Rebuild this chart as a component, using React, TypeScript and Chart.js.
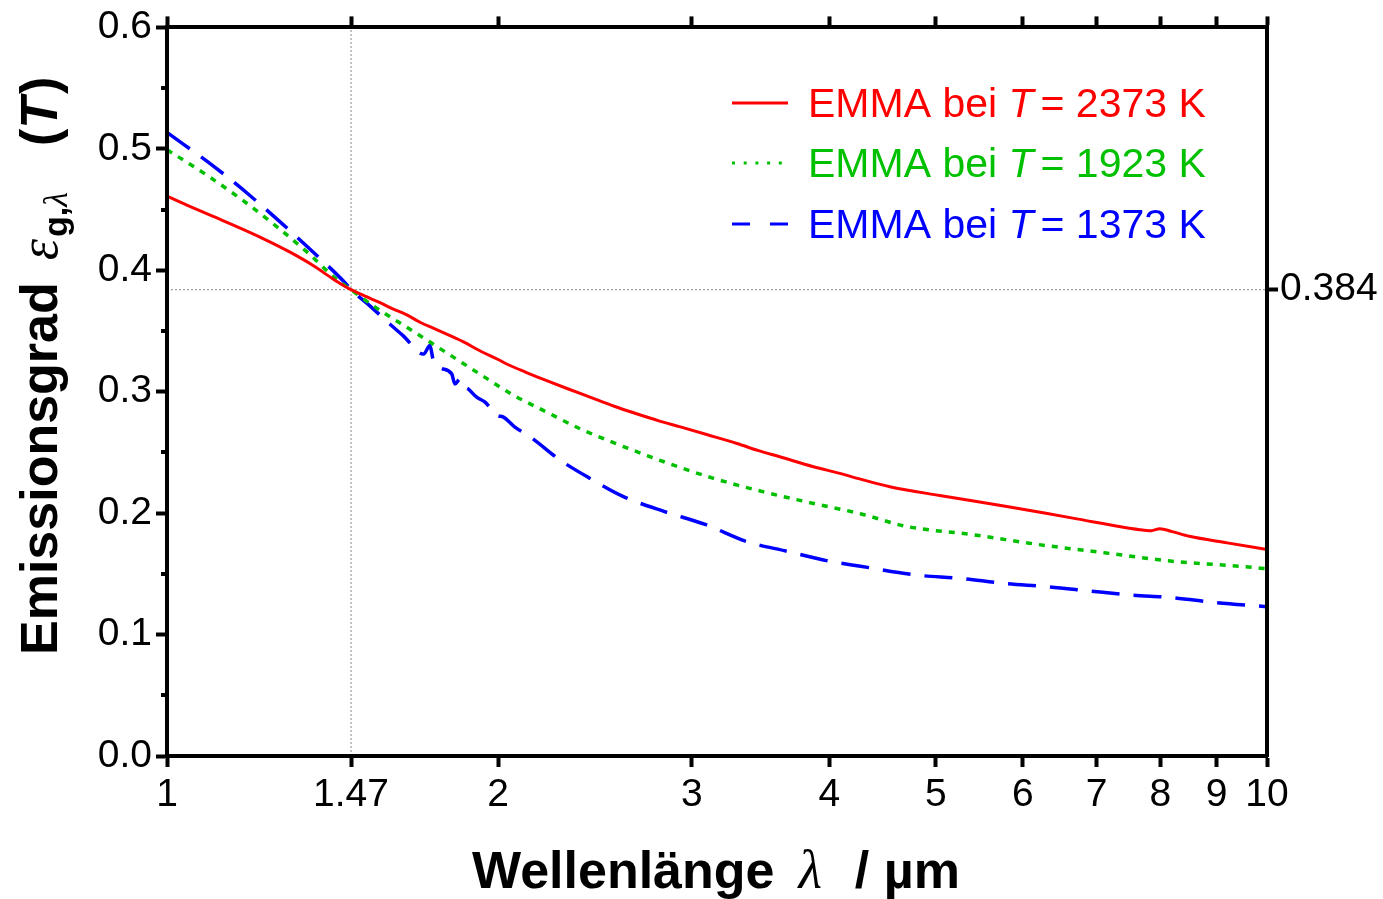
import React, { useEffect, useRef } from "react";
import { Chart, registerables } from "chart.js";

Chart.register(...registerables);

// ---------- data ----------
const redLambda = [1.0, 1.05, 1.1, 1.16, 1.22, 1.29, 1.36, 1.42, 1.47, 1.52, 1.56, 1.606, 1.65, 1.7, 1.75, 1.8, 1.86, 1.925, 2.0, 2.036, 2.12, 2.214, 2.32, 2.424, 2.55, 2.673, 2.8, 2.929, 3.1, 3.297, 3.45, 3.607, 3.87, 4.09, 4.27, 4.54, 5.04, 5.8, 6.66, 7.66, 7.85, 7.99, 8.2, 8.5, 9.2, 10.0];
const redEmission = [0.461, 0.4525, 0.4445, 0.4355, 0.4265, 0.4155, 0.4035, 0.392, 0.384, 0.378, 0.3735, 0.368, 0.3635, 0.357, 0.352, 0.347, 0.341, 0.3337, 0.3265, 0.3228, 0.316, 0.3091, 0.302, 0.2955, 0.288, 0.2818, 0.276, 0.271, 0.2645, 0.2573, 0.2515, 0.2464, 0.2382, 0.2327, 0.228, 0.2218, 0.2145, 0.2055, 0.1959, 0.1864, 0.1855, 0.1872, 0.1848, 0.1809, 0.1755, 0.17];

const greenLambda = [1.0, 1.087, 1.173, 1.258, 1.349, 1.42, 1.47, 1.55, 1.663, 1.8, 1.939, 2.063, 2.214, 2.374, 2.58, 2.83, 3.14, 3.48, 3.87, 4.27, 4.7, 5.4, 6.2, 7.14, 8.2, 9.8, 10.0];
const greenEmission = [0.4993, 0.4783, 0.4573, 0.436, 0.4128, 0.394, 0.384, 0.369, 0.3514, 0.3314, 0.3127, 0.2974, 0.2832, 0.2695, 0.256, 0.2423, 0.2286, 0.2177, 0.208, 0.1995, 0.1891, 0.1823, 0.1741, 0.1672, 0.1604, 0.155, 0.154];

const blueLambda = [1.0, 1.105, 1.188, 1.276, 1.366, 1.452, 1.47, 1.53, 1.595, 1.64, 1.711, 1.734, 1.745, 1.77, 1.815, 1.827, 1.847, 1.859, 1.88, 1.912, 1.946, 1.995, 2.022, 2.07, 2.14, 2.277, 2.424, 2.6, 2.83, 3.09, 3.36, 3.66, 4.0, 4.27, 4.8, 5.26, 5.76, 6.32, 6.9, 7.5, 8.2, 9.0, 10.0];
const blueEmission = [0.5135, 0.485, 0.462, 0.4374, 0.4128, 0.3896, 0.384, 0.3705, 0.3555, 0.346, 0.331, 0.338, 0.327, 0.32, 0.3145, 0.3064, 0.3105, 0.305, 0.302, 0.2955, 0.2914, 0.2805, 0.2791, 0.271, 0.2627, 0.2437, 0.2286, 0.2136, 0.2014, 0.1905, 0.1768, 0.1686, 0.1604, 0.1563, 0.149, 0.1463, 0.1422, 0.1394, 0.1359, 0.1326, 0.1304, 0.1263, 0.123];

const seriesTemps = ["2373", "1923", "1373"];

const xTickValues = [1, 1.47, 2, 3, 4, 5, 6, 7, 8, 9, 10];
const xTickLabels = ["1", "1.47", "2", "3", "4", "5", "6", "7", "8", "9", "10"];
const yTickValues = [0, 0.1, 0.2, 0.3, 0.4, 0.5, 0.6];
const yTickLabels = ["0.0", "0.1", "0.2", "0.3", "0.4", "0.5", "0.6"];
const yMinorTicks = [0.05, 0.15, 0.25, 0.35, 0.45, 0.55];

const refLambda = 1.47;
const refEmission = 0.384;
const refLabel = "0.384";

// ---------- styles ----------
const SANS = "'Liberation Sans', Arial, Helvetica, sans-serif";
const SERIF = "'Liberation Serif', 'Times New Roman', serif";
const RED = "#ff0000";
const GREEN = "#00c000";
const BLUE = "#0000ff";
const seriesColors = [RED, GREEN, BLUE];
const legendDashes = [[], [3, 8.7], [18, 20]];

type Seg = { t: string; f: string; dx?: number; dy?: number };

function drawSegs(ctx: CanvasRenderingContext2D, segs: Seg[], x0: number, y0: number) {
  let x = x0;
  for (const s of segs) {
    ctx.font = s.f;
    x += s.dx ?? 0;
    ctx.fillText(s.t, x, y0 + (s.dy ?? 0));
    x += ctx.measureText(s.t).width;
  }
  return x;
}

const overlayPlugin = {
  id: "overlay",
  afterDraw(chart: any) {
    const ctx: CanvasRenderingContext2D = chart.ctx;
    const ca = chart.chartArea;
    const ys = chart.scales.y;
    ctx.save();
    // minor ticks on left axis
    ctx.strokeStyle = "#000";
    ctx.lineWidth = 4;
    ctx.setLineDash([]);
    for (const v of yMinorTicks) {
      const py = Math.round(ys.getPixelForValue(v));
      ctx.beginPath();
      ctx.moveTo(ca.left - 6, py);
      ctx.lineTo(ca.left, py);
      ctx.stroke();
    }

    ctx.fillStyle = "#000";
    ctx.textAlign = "left";
    ctx.textBaseline = "alphabetic";

    // x axis title
    drawSegs(
      ctx,
      [
        { t: "Wellenlänge", f: `bold 52px ${SANS}` },
        { t: "λ", f: `italic 54px ${SERIF}`, dx: 24 },
        { t: "/ µm", f: `bold 52px ${SANS}`, dx: 33 },
      ],
      472,
      888
    );

    // y axis title (rotated)
    ctx.save();
    ctx.translate(57, 655);
    ctx.rotate(-Math.PI / 2);
    drawSegs(
      ctx,
      [
        { t: "Emissionsgrad", f: `bold 52px ${SANS}` },
        { t: "ε", f: `italic 54px ${SERIF}`, dx: 22 },
        { t: "g", f: `bold 34px ${SANS}`, dx: 2, dy: 10 },
        { t: ",", f: `bold 34px ${SANS}`, dy: 10 },
        { t: "λ", f: `italic 34px ${SERIF}`, dy: 10 },
        { t: "(", f: `bold 52px ${SANS}`, dx: 46 },
        { t: "T", f: `bold italic 52px ${SANS}` },
        { t: ")", f: `bold 52px ${SANS}`, dx: 3 },
      ],
      0,
      0
    );
    ctx.restore();

    // legend
    const rowY = [103, 163, 224];
    for (let i = 0; i < 3; i++) {
      const y = rowY[i];
      ctx.strokeStyle = seriesColors[i];
      ctx.lineWidth = 3;
      ctx.setLineDash(legendDashes[i]);
      ctx.beginPath();
      ctx.moveTo(732, y);
      ctx.lineTo(788, y);
      ctx.stroke();
      ctx.setLineDash([]);
      ctx.fillStyle = seriesColors[i];
      drawSegs(
        ctx,
        [
          { t: "EMMA bei ", f: `41px ${SANS}` },
          { t: "T", f: `italic 41px ${SANS}` },
          { t: "= " + seriesTemps[i] + " K", f: `41px ${SANS}`, dx: 7 },
        ],
        808,
        y + 14
      );
    }
    ctx.restore();
  },
};

const tickFont = { family: SANS, size: 39 };

function App() {
  const ref = useRef<HTMLCanvasElement>(null);
  useEffect(() => {
    const pts = (xs: number[], ys: number[]) => xs.map((x, i) => ({ x, y: ys[i] }));
    const gridOpts = {
      drawOnChartArea: false,
      drawTicks: true,
      tickLength: 11,
      tickWidth: 4,
      tickColor: "#000",
    };
    const borderOpts = { display: true, color: "#000", width: 4, z: 2 };
    const chart = new Chart(ref.current as HTMLCanvasElement, {
      type: "scatter",
      data: {
        datasets: [
          {
            label: "EMMA bei T = 2373 K",
            data: pts(redLambda, redEmission),
            showLine: true,
            borderColor: RED,
            borderWidth: 3,
            pointRadius: 0,
            cubicInterpolationMode: "monotone",
            order: 1,
          },
          {
            label: "EMMA bei T = 1923 K",
            data: pts(greenLambda, greenEmission),
            showLine: true,
            borderColor: GREEN,
            borderWidth: 3.5,
            borderDash: [6, 7],
            pointRadius: 0,
            cubicInterpolationMode: "monotone",
            order: 2,
          },
          {
            label: "EMMA bei T = 1373 K",
            data: pts(blueLambda, blueEmission),
            showLine: true,
            borderColor: BLUE,
            borderWidth: 3.5,
            borderDash: [28, 14],
            pointRadius: 0,
            cubicInterpolationMode: "monotone",
            order: 3,
          },
          {
            label: "ref-v",
            data: [
              { x: refLambda, y: yTickValues[0] },
              { x: refLambda, y: yTickValues[yTickValues.length - 1] },
            ],
            showLine: true,
            borderColor: "#8a8a8a",
            borderWidth: 1,
            borderDash: [2, 2],
            pointRadius: 0,
            order: 10,
          },
          {
            label: "ref-h",
            data: [
              { x: xTickValues[0], y: refEmission },
              { x: xTickValues[xTickValues.length - 1], y: refEmission },
            ],
            showLine: true,
            borderColor: "#8a8a8a",
            borderWidth: 1,
            borderDash: [2, 2],
            pointRadius: 0,
            order: 10,
          },
        ],
      },
      options: {
        animation: false,
        responsive: false,
        devicePixelRatio: 1,
        layout: { padding: 0 },
        plugins: { legend: { display: false }, tooltip: { enabled: false }, title: { display: false } },
        scales: {
          x: {
            type: "logarithmic",
            position: "bottom",
            min: 1,
            max: 10,
            afterBuildTicks: (s: any) => {
              s.ticks = xTickValues.map((v) => ({ value: v }));
            },
            afterFit: (s: any) => {
              s.height = 143;
            },
            ticks: {
              callback: (_v: any, i: number) => xTickLabels[i],
              font: tickFont,
              color: "#000",
              padding: 5,
              autoSkip: false,
              maxRotation: 0,
              minRotation: 0,
            },
            grid: gridOpts,
            border: borderOpts,
          },
          x2: {
            type: "logarithmic",
            position: "top",
            min: 1,
            max: 10,
            afterBuildTicks: (s: any) => {
              s.ticks = xTickValues.map((v) => ({ value: v }));
            },
            afterFit: (s: any) => {
              s.height = 23;
            },
            ticks: { display: false },
            grid: gridOpts,
            border: borderOpts,
          },
          y: {
            type: "linear",
            position: "left",
            min: 0,
            max: 0.6,
            afterBuildTicks: (s: any) => {
              s.ticks = yTickValues.map((v) => ({ value: v }));
            },
            afterFit: (s: any) => {
              s.width = 167;
            },
            ticks: {
              callback: (_v: any, i: number) => yTickLabels[i],
              font: tickFont,
              color: "#000",
              padding: 4,
            },
            grid: gridOpts,
            border: borderOpts,
          },
          y2: {
            type: "linear",
            position: "right",
            min: 0,
            max: 0.6,
            afterBuildTicks: (s: any) => {
              s.ticks = [{ value: refEmission }];
            },
            afterFit: (s: any) => {
              s.width = 116;
            },
            ticks: {
              callback: () => refLabel,
              font: tickFont,
              color: "#000",
              padding: 2,
            },
            grid: gridOpts,
            border: borderOpts,
          },
        },
      } as any,
      plugins: [overlayPlugin],
    });
    return () => chart.destroy();
  }, []);
  return (
    <div style={{ position: "fixed", left: 0, top: 0, width: 1383, height: 899, background: "#fff" }}>
      <canvas ref={ref} width={1383} height={899} style={{ display: "block" }} />
    </div>
  );
}

export default App;
